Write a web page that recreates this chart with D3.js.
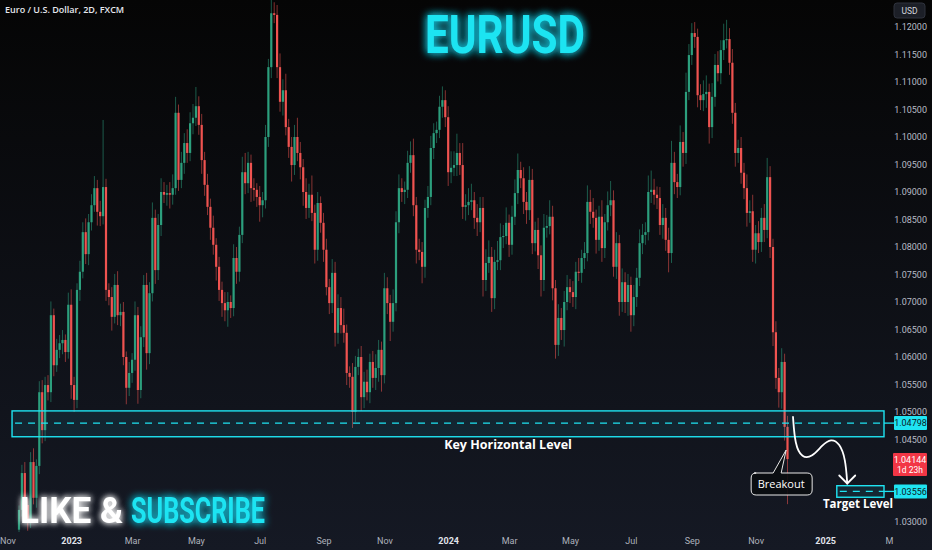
<!DOCTYPE html>
<html><head><meta charset="utf-8">
<script src="https://cdn.jsdelivr.net/npm/d3@7"></script>
<style>html,body{margin:0;padding:0;background:#000;}svg{display:block}</style>
</head><body>
<svg id="c" width="932" height="550"></svg>
<script>
// ---------------- DATA ----------------
const firstOpen = 1.0286;
const closes = [
1.0322,1.0389,1.0331,1.0304,1.0409,1.0344,1.0402,1.0536,1.0467,1.0549,
1.0536,1.0676,1.0585,1.0613,1.0625,1.0631,1.0609,1.0695,1.0549,1.0522,
1.0722,1.0755,1.0827,1.0787,1.0845,1.0876,1.0907,1.0864,1.0856,1.0909,
1.0722,1.0709,1.0673,1.0731,1.0676,1.0682,1.0600,1.0544,1.0571,1.0595,
1.0676,1.0540,1.0636,1.0731,1.0607,1.0716,1.0853,1.0758,1.0840,1.0900,
1.0895,1.0898,1.0895,1.0907,1.1044,1.0922,1.0953,1.0989,1.0971,1.1025,
1.1035,1.1056,1.1022,1.0958,1.0913,1.0873,1.0835,1.0804,1.0764,1.0722,
1.0698,1.0685,1.0700,1.0689,1.0780,1.0755,1.0822,1.0936,1.0916,1.0953,
1.0907,1.0904,1.0891,1.0876,1.0885,1.1000,1.1127,1.1225,1.1222,1.1127,
1.1064,1.1085,1.1018,1.0982,1.0949,1.1000,1.0971,1.0945,1.0900,1.0871,
1.0895,1.0862,1.0795,1.0880,1.0844,1.0795,1.0727,1.0698,1.0753,1.0644,
1.0689,1.0658,1.0644,1.0571,1.0564,1.0500,1.0582,1.0600,1.0527,1.0555,
1.0536,1.0591,1.0562,1.0580,1.0613,1.0567,1.0725,1.0698,1.0664,1.0698,
1.0845,1.0907,1.0900,1.0904,1.0953,1.0967,1.0876,1.0795,1.0791,1.0764,
1.0871,1.0891,1.0980,1.1007,1.1013,1.1055,1.1067,1.1036,1.0936,1.0944,
1.0949,1.0971,1.0949,1.0873,1.0876,1.0882,1.0885,1.0853,1.0845,1.0871,
1.0740,1.0771,1.0782,1.0707,1.0773,1.0776,1.0818,1.0820,1.0844,1.0804,
1.0855,1.0898,1.0940,1.0925,1.0882,1.0867,1.0922,1.0807,1.0831,1.0785,
1.0740,1.0835,1.0838,1.0855,1.0725,1.0622,1.0671,1.0649,1.0700,1.0727,
1.0718,1.0709,1.0755,1.0753,1.0780,1.0789,1.0882,1.0864,1.0853,1.0813,
1.0855,1.0798,1.0845,1.0876,1.0885,1.0764,1.0807,1.0700,1.0736,1.0700,
1.0731,1.0676,1.0709,1.0744,1.0807,1.0822,1.0827,1.0900,1.0904,1.0895,
1.0889,1.0840,1.0853,1.0813,1.0789,1.0953,1.0918,1.0909,1.0991,1.0971,
1.1082,1.1149,1.1189,1.1182,1.1076,1.1067,1.1078,1.1082,1.1018,1.1073,
1.1131,1.1116,1.1158,1.1176,1.1178,1.1135,1.1044,1.0971,1.0980,1.0935,
1.0907,1.0862,1.0865,1.0795,1.0825,1.0809,1.0853,1.0831,1.0927,1.0800,
1.0645,1.0562,1.0536,1.0591,1.0473,1.04144
];
// wick lengths above body top / below body bottom, in pips
const upperWickPips = [
8,15,20,12,18,25,12,20,22,15, 18,25,12,20,15,18,10,22,28,15,
12,20,18,25,15,20,22,15,20,122, 15,12,18,20,25,15,18,10,20,12,
25,15,20,18,22,20,28,15,20,25, 18,15,20,25,29,15,20,18,25,20,
25,35,18,20,15,20,15,22,12,18, 15,20,18,12,25,20,15,28,35,20,
15,18,12,20,15,22,15,50,20,18, 25,20,30,15,18,22,35,20,15,25,
20,35,15,20,12,18,20,15,25,20, 25,20,30,15,12,25,20,15,20,18,
22,15,20,25,18,15,28,20,15,25, 20,25,18,15,22,25,30,15,20,18,
15,20,22,18,15,20,25,18,20,30, 25,35,18,40,20,25,30,15,25,20,
20,25,30,18,22,35,25,20,28,15, 20,25,30,15,20,18,25,20,15,22,
18,25,20,30,20,15,25,18,20,22, 15,20,18,25,15,20,30,22,25,15,
20,30,15,25,35,18,20,15,25,18, 20,15,22,18,25,20,18,30,35,20,
15,20,25,18,22,40,20,15,30,18, 35,20,18,20,15,20,25,30,15,25,
20,25,18,30,35,20,25,18,15,20, 18,25,20,30,15,22,18,25,35,20,
15,20,18,25,15,20
];
const lowerWickPips = [
10,12,18,20,15,12,18,15,24,20, 15,18,20,12,15,20,18,12,25,22,
15,20,12,18,20,15,12,25,18,15, 20,15,25,12,18,20,15,30,15,18,
20,25,15,18,30,20,15,25,18,20, 15,20,25,18,12,20,15,20,18,15,
20,15,18,25,20,15,22,18,25,20, 25,20,30,18,15,22,18,15,20,18,
25,20,18,30,22,15,18,20,15,20, 18,25,15,20,30,18,15,22,25,20,
18,15,25,20,18,22,15,20,18,25, 20,15,18,22,20,29,18,15,25,20,
15,20,18,22,25,30,15,20,35,18, 15,20,18,22,15,18,20,25,15,30,
20,18,15,20,18,15,20,18,25,20, 15,20,18,22,25,18,15,20,25,18,
30,20,18,25,20,15,18,20,15,22, 18,15,20,18,22,25,18,20,15,25,
30,20,18,15,22,25,20,18,30,15, 20,18,22,15,18,20,15,22,18,25,
20,25,18,15,20,18,22,25,18,20, 25,30,20,18,15,20,18,15,20,18,
20,18,25,20,35,18,22,20,15,25, 20,15,18,20,22,18,20,25,30,20,
18,15,20,18,15,22,20,25,18,20, 20,25,18,22,25,20,18,22,15,20,
25,20,28,30,25,82
];
const timeLabels = ["Nov","2023","Mar","May","Jul","Sep","Nov","2024","Mar","May","Jul","Sep","Nov","2025","M"];
const timeLabelBars = [-4,18,39,61,83,105,126,148,169,190,211,232,254,278,300];
const yearLabels = ["2023","2024","2025"];
const priceTicks = [1.03,1.035,1.04,1.045,1.05,1.055,1.06,1.065,1.07,1.075,1.08,1.085,1.09,1.095,1.10,1.105,1.11,1.115,1.12];
const keyLevel = {mid:1.04798, top:1.0502, bottom:1.0455, startBar:-2.4};
const targetLevel = {mid:1.03556, top:1.0366, bottom:1.0345, startBar:282};
const lastPrice = 1.04144;
const countdown = "1d 23h";
const arrowPath = [[266.9,1.0491],[267.6,1.0440],[270,1.0416],[273.5,1.0418],[277,1.0440],[280,1.0452],[283,1.0443],[285,1.0415],[285.6,1.0370]];

// ---------------- CHART ----------------
const W=932,H=550, plotR=886, plotB=532;
const GREEN="#2c9f7d", RED="#ef5350", CYAN="#1fe4f2";
const svg=d3.select("#c");
const defs=svg.append("defs");
const bg=defs.append("linearGradient").attr("id","bg").attr("x1",0).attr("y1",0).attr("x2",0).attr("y2",1);
bg.append("stop").attr("offset","0%").attr("stop-color","#050505");
bg.append("stop").attr("offset","100%").attr("stop-color","#151924");
function glow(id,color,sd){
  const f=defs.append("filter").attr("id",id).attr("x","-30%").attr("y","-60%").attr("width","160%").attr("height","220%");
  f.append("feGaussianBlur").attr("in","SourceAlpha").attr("stdDeviation",sd).attr("result","b");
  f.append("feFlood").attr("flood-color",color).attr("flood-opacity",0.85);
  f.append("feComposite").attr("in2","b").attr("operator","in").attr("result","g");
  const m=f.append("feMerge");m.append("feMergeNode").attr("in","g");m.append("feMergeNode").attr("in","g");m.append("feMergeNode").attr("in","SourceGraphic");
}
glow("glowC","#18c8e0",4);
glow("glowW","#ffffff",3);
defs.append("clipPath").attr("id","plot").append("rect").attr("x",0).attr("y",0).attr("width",plotR).attr("height",plotB);

svg.append("rect").attr("width",W).attr("height",H).attr("fill","url(#bg)");

const x=d3.scaleLinear().domain([0,300]).range([19,889]);
const y=d3.scaleLinear().domain([1.03,1.12]).range([522,27]);

const candles=closes.map((c,i)=>{
  const o=i===0?firstOpen:closes[i-1];
  return {i,o,c,h:Math.max(o,c)+upperWickPips[i]/10000,l:Math.min(o,c)-lowerWickPips[i]/10000};
});

const g=svg.append("g").attr("clip-path","url(#plot)");
g.selectAll("line.w").data(candles).join("line").attr("class","w")
 .attr("x1",d=>x(d.i)).attr("x2",d=>x(d.i)).attr("y1",d=>y(d.h)).attr("y2",d=>y(d.l))
 .attr("stroke",d=>d.c>=d.o?GREEN:RED).attr("stroke-opacity",0.55).attr("stroke-width",1);
g.selectAll("rect.b").data(candles).join("rect").attr("class","b")
 .attr("x",d=>x(d.i)-1.1).attr("width",2.2)
 .attr("y",d=>y(Math.max(d.o,d.c))).attr("height",d=>Math.max(1,Math.abs(y(d.o)-y(d.c))))
 .attr("fill",d=>d.c>=d.o?GREEN:RED);

// key level box
function levelBox(L,label){
  const x0=x(L.startBar), yt=y(L.top), yb=y(L.bottom), ym=y(L.mid);
  svg.append("rect").attr("x",x0).attr("y",yt).attr("width",plotR-2-x0).attr("height",yb-yt)
    .attr("fill","rgba(30,200,225,0.10)").attr("stroke",CYAN).attr("stroke-width",1.4);
  svg.append("line").attr("x1",x0+3).attr("x2",plotR-2).attr("y1",ym).attr("y2",ym)
    .attr("stroke",CYAN).attr("stroke-width",1.3).attr("stroke-dasharray","7,6");
  svg.append("line").attr("x1",plotR-2).attr("x2",894).attr("y1",ym).attr("y2",ym).attr("stroke",CYAN).attr("stroke-width",1.3);
  svg.append("rect").attr("x",894).attr("y",ym-7).attr("width",33).attr("height",14).attr("fill",CYAN).attr("rx",1);
  svg.append("text").attr("x",910.5).attr("y",ym+3.3).attr("text-anchor","middle").attr("font-family","Roboto, sans-serif")
    .attr("font-size",9).attr("fill","#0b1a1f").text(d3.format(".5f")(L.mid));
}

// price axis
const ax=svg.append("g").attr("transform",`translate(${plotR},0)`)
  .call(d3.axisRight(y).tickValues(priceTicks.filter(p=>Math.abs(y(p)-y(keyLevel.mid))>9&&Math.abs(y(p)-y(targetLevel.mid))>9&&Math.abs(y(p)-y(lastPrice)-9)>12)).tickFormat(d3.format(".5f")).tickSize(0));
ax.select(".domain").remove();
ax.selectAll("text").attr("x",41).attr("text-anchor","end").attr("font-family","Roboto, sans-serif").attr("font-size",9).attr("fill","#b8bcc6");

// time axis
const tx=svg.append("g").attr("transform",`translate(0,${plotB})`)
  .call(d3.axisBottom(x).tickValues(timeLabelBars).tickFormat((d,i)=>timeLabels[i]).tickSize(0));
tx.select(".domain").remove();
tx.selectAll("text").attr("y",6).attr("font-family","Roboto, sans-serif").attr("font-size",9)
  .attr("font-weight",(d,i)=>yearLabels.includes(timeLabels[i])?700:400)
  .attr("fill",(d,i)=>yearLabels.includes(timeLabels[i])?"#e0e3ea":"#aeb2bc");

levelBox(keyLevel);
levelBox(targetLevel);

// last price label
const yl=y(lastPrice);
svg.append("rect").attr("x",893).attr("y",yl-6).attr("width",34).attr("height",23).attr("fill","#f23645").attr("rx",1);
svg.append("text").attr("x",910).attr("y",yl+3.5).attr("text-anchor","middle").attr("font-family","Roboto, sans-serif").attr("font-size",9).attr("fill","#fff").text(d3.format(".5f")(lastPrice));
svg.append("text").attr("x",910).attr("y",yl+13.5).attr("text-anchor","middle").attr("font-family","Roboto, sans-serif").attr("font-size",8.5).attr("fill","#fff").text(countdown);

// USD box
svg.append("rect").attr("x",894).attr("y",3).attr("width",31).attr("height",15).attr("rx",3).attr("fill","#1c1f27").attr("stroke","#2e323c");
svg.append("text").attr("x",909.5).attr("y",13.5).attr("text-anchor","middle").attr("font-family","Roboto, sans-serif").attr("font-size",8.5).attr("fill","#d1d4dc").text("USD");

// header
svg.append("text").attr("x",5).attr("y",13).attr("font-family","'Open Sans', sans-serif").attr("font-weight",600).attr("font-size",9).attr("fill","#e6e8ee").text("Euro / U.S. Dollar, 2D, FXCM");

// title
svg.append("text").attr("x",425).attr("y",53).attr("textLength",160).attr("lengthAdjust","spacingAndGlyphs")
  .attr("font-family","Roboto, sans-serif").attr("font-weight",700).attr("font-size",53).attr("fill",CYAN).attr("filter","url(#glowC)").text("EURUSD");

// like & subscribe
svg.append("text").attr("x",20).attr("y",523).attr("textLength",103).attr("lengthAdjust","spacingAndGlyphs")
  .attr("font-family","Roboto, sans-serif").attr("font-weight",700).attr("font-size",37).attr("fill","#ffffff").attr("filter","url(#glowW)").text("LIKE &");
svg.append("text").attr("x",131).attr("y",523).attr("textLength",134).attr("lengthAdjust","spacingAndGlyphs")
  .attr("font-family","Roboto, sans-serif").attr("font-weight",700).attr("font-size",37).attr("fill",CYAN).attr("filter","url(#glowC)").text("SUBSCRIBE");

// annotations
svg.append("text").attr("x",508).attr("y",449).attr("text-anchor","middle").attr("font-family","'Open Sans', sans-serif").attr("font-weight",700).attr("font-size",12.5).attr("fill","#fff").text("Key Horizontal Level");
svg.append("text").attr("x",858).attr("y",508).attr("text-anchor","middle").attr("font-family","'Open Sans', sans-serif").attr("font-weight",700).attr("font-size",11.5).attr("fill","#fff").text("Target Level");

// curved arrow
const line=d3.line().x(d=>x(d[0])).y(d=>y(d[1])).curve(d3.curveBasis);
svg.append("path").attr("d",line(arrowPath)).attr("fill","none").attr("stroke","#fff").attr("stroke-width",1.8).attr("stroke-linecap","round");
const tip=arrowPath[arrowPath.length-1], tx0=x(tip[0]), ty0=y(tip[1]);
svg.append("path").attr("d",`M${tx0-8},${ty0-8}L${tx0},${ty0}L${tx0+8},${ty0-8}`).attr("fill","none").attr("stroke","#fff").attr("stroke-width",1.8).attr("stroke-linecap","round").attr("stroke-linejoin","round");

// breakout bubble
const bx=x(263.5), by=y(1.0420);
const bub=`M${bx-29},${by+17} h${19} L${bx+3},${by-6} L${bx-2},${by+17} h${26} q5,0 5,5 v12 q0,5 -5,5 h-${51} q-5,0 -5,-5 v-12 q0,-5 5,-5 Z`;
svg.append("path").attr("d",bub).attr("fill","rgba(10,12,16,0.9)").attr("stroke","#e8e8e8").attr("stroke-width",1);
svg.append("text").attr("x",bx-2).attr("y",by+31.5).attr("text-anchor","middle").attr("font-family","'Open Sans', sans-serif").attr("font-size",11).attr("fill","#fff").text("Breakout");
</script>
</body></html>
